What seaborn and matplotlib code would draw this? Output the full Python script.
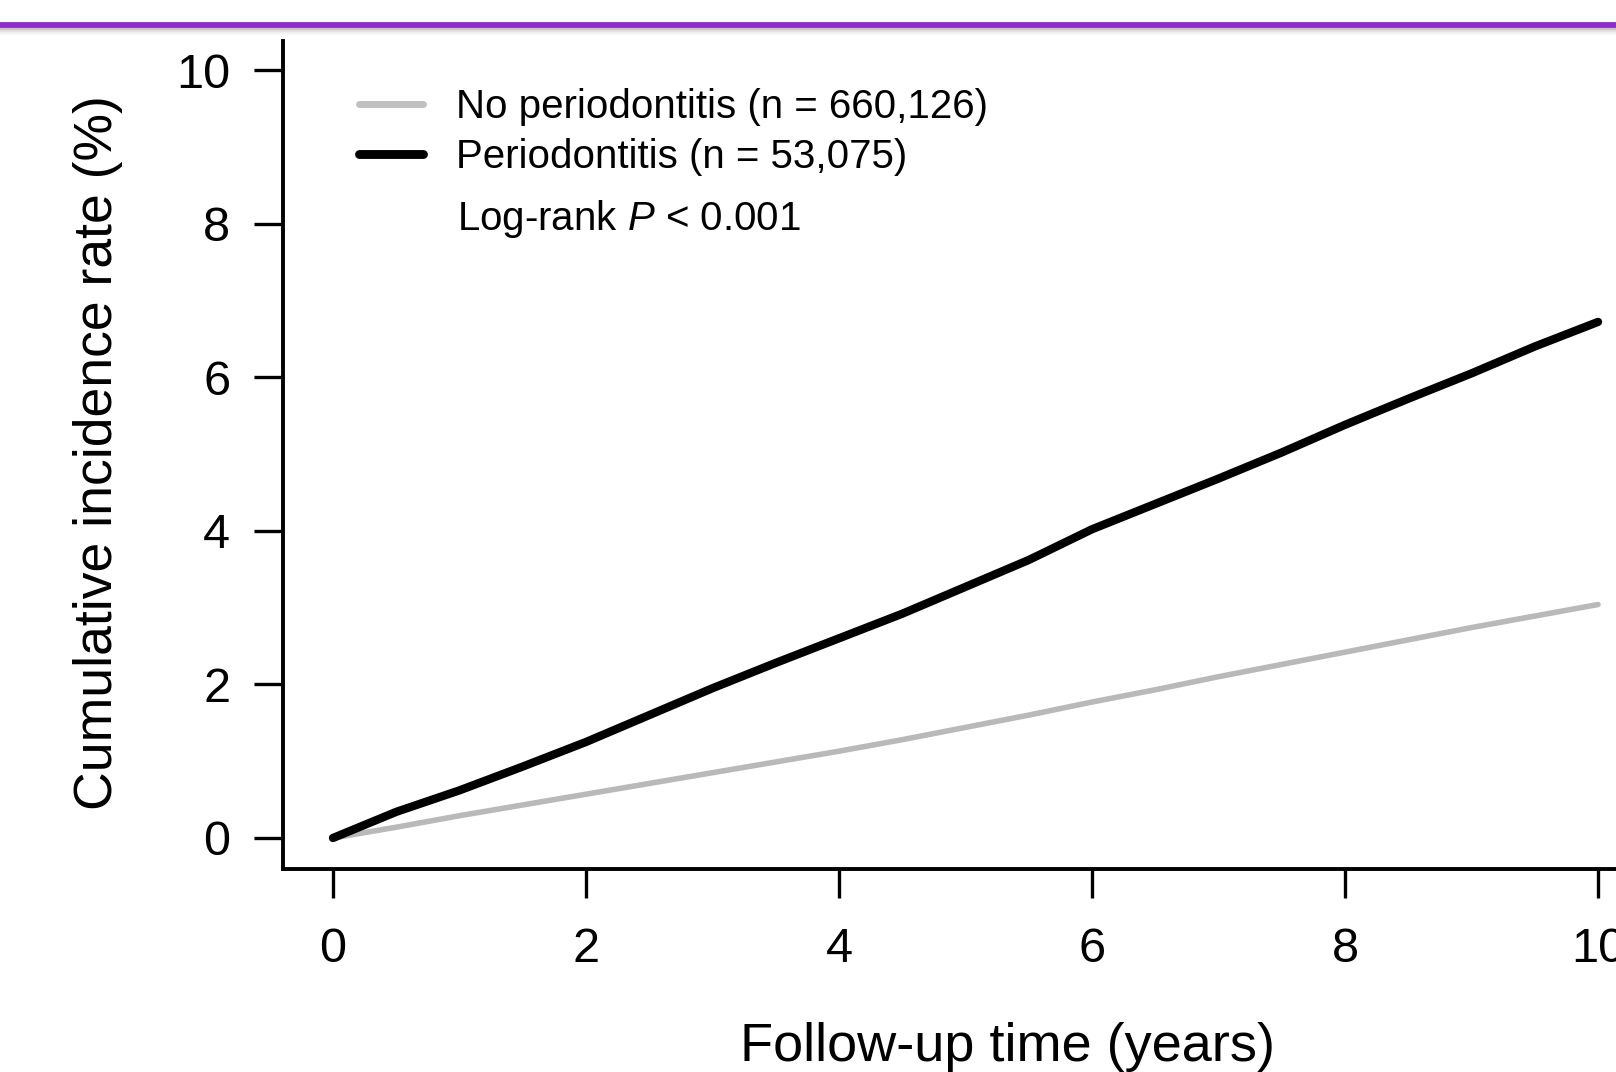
import pandas as pd
import matplotlib.pyplot as plt
import seaborn as sns
from matplotlib.lines import Line2D

# follow-up time (years) and cumulative incidence (%)
years = [0, 0.25, 0.5, 1, 1.5, 2, 2.5, 3, 3.5, 4, 4.5, 5, 5.5, 6, 6.5, 7, 7.5, 8, 8.5, 9, 9.5, 10]
no_perio = [0, 0.07, 0.14, 0.29, 0.43, 0.57, 0.71, 0.85, 0.99, 1.13, 1.28, 1.44, 1.60, 1.77,
            1.93, 2.10, 2.26, 2.42, 2.58, 2.74, 2.89, 3.04]
perio = [0, 0.17, 0.34, 0.62, 0.93, 1.25, 1.60, 1.95, 2.28, 2.60, 2.92, 3.27, 3.62, 4.02,
         4.35, 4.68, 5.02, 5.38, 5.72, 6.05, 6.40, 6.72]
labels = ['No periodontitis (n = 660,126)', 'Periodontitis (n = 53,075)']
x_ticks = [0, 2, 4, 6, 8, 10]
y_ticks = [0, 2, 4, 6, 8, 10]

sns.set_style('ticks')
plt.rcParams['font.family'] = ['Liberation Sans', 'DejaVu Sans']
plt.rcParams['mathtext.fontset'] = 'custom'
plt.rcParams['mathtext.it'] = 'Liberation Sans:italic'
plt.rcParams['mathtext.rm'] = 'Liberation Sans'
for key in ['text.color', 'axes.labelcolor', 'xtick.color', 'ytick.color', 'axes.edgecolor']:
    plt.rcParams[key] = 'black'

W, H = 1616, 1072
fig = plt.figure(figsize=(W / 100, H / 100), dpi=100)
# axes box in pixels: left 283, bottom 869, top 41, runs past the right edge
ax = fig.add_axes([283 / W, 1 - 869 / H, 1417 / W, 828 / H])

df_no = pd.DataFrame({'year': years, 'rate': no_perio})
df_p = pd.DataFrame({'year': years, 'rate': perio})
sns.lineplot(data=df_no, x='year', y='rate', color='#b9b9b9', linewidth=4.0,
             solid_capstyle='round', ax=ax)
sns.lineplot(data=df_p, x='year', y='rate', color='black', linewidth=6.0,
             solid_capstyle='round', solid_joinstyle='round', ax=ax)

ax.set_xlim(-0.395, 10.806)
ax.set_ylim(-0.404, 10.378)
ax.set_xticks(x_ticks)
ax.set_yticks(y_ticks)
ax.tick_params(axis='both', length=21, width=2.4, direction='out', labelsize=35)
ax.tick_params(axis='x', pad=21)
ax.tick_params(axis='y', pad=17)
for side in ['top', 'right']:
    ax.spines[side].set_visible(False)
for side in ['left', 'bottom']:
    ax.spines[side].set_linewidth(2.8)

ax.set_xlabel('Follow-up time (years)', fontsize=39, va='center')
ax.xaxis.set_label_coords((1008 - 283) / 1417, (869 - 1047) / 828)
ax.set_ylabel('Cumulative incidence rate (%)', fontsize=38.5, va='center')
ax.yaxis.set_label_coords((98 - 283) / 1417, (869 - 453) / 828)

handles = [Line2D([], [], color='#c0c0c0', linewidth=5, solid_capstyle='round'),
           Line2D([], [], color='black', linewidth=6.4, solid_capstyle='round')]
leg = ax.legend(handles, labels, loc='upper left', frameon=False, fontsize=29,
                handlelength=1.6, handletextpad=0.82, labelspacing=0.3,
                borderaxespad=0, borderpad=0,
                bbox_to_anchor=(359 / W, 1 - 88 / H), bbox_transform=fig.transFigure)

ax.text(457 / W, 1 - 219 / H, 'Log-rank $\\it{P}$ < 0.001', fontsize=29,
        ha='left', va='center', transform=fig.transFigure)

# purple banner rule with soft shadow along the top
for i, g in enumerate([0.72, 0.8, 0.87, 0.93, 0.97]):
    fig.add_artist(Line2D([0, 1], [1 - (29 + i * 1.2) / H] * 2, color=str(g), linewidth=1.2,
                          transform=fig.transFigure))
fig.add_artist(Line2D([0, 1], [1 - 24.5 / H] * 2, color='#8b2fca', linewidth=4.2,
                      transform=fig.transFigure))

fig.savefig('out.png', dpi=100)
